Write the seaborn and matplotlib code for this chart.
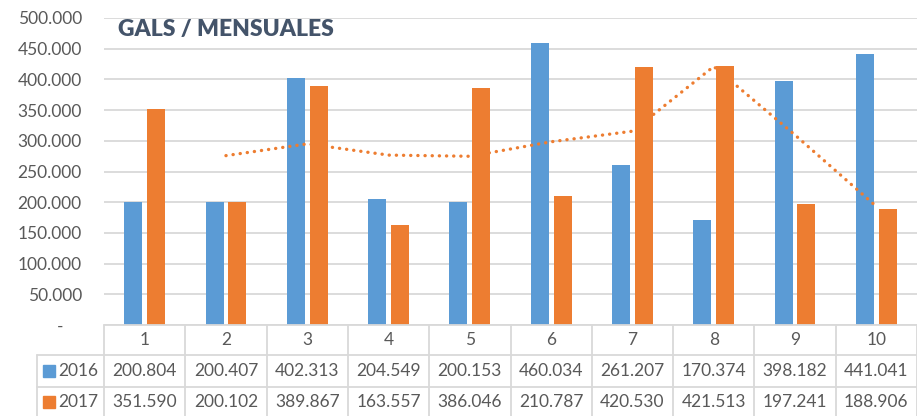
import matplotlib
matplotlib.use("Agg")
import matplotlib.pyplot as plt
import matplotlib.transforms as mtransforms
import seaborn as sns
import pandas as pd

months = ["1", "2", "3", "4", "5", "6", "7", "8", "9", "10"]
years = ["2016", "2017"]
gals_2016 = [200804, 200407, 402313, 204549, 200153, 460034, 261207, 170374, 398182, 441041]
gals_2017 = [351590, 200102, 389867, 163557, 386046, 210787, 420530, 421513, 197241, 188906]

colors = {"2016": "#5B9BD5", "2017": "#ED7D31"}
txt_color = "#595959"
grid_color = "#D9D9D9"


def fmt(v):
    return f"{v:,.0f}".replace(",", ".")


df = pd.DataFrame({
    "Mes": months * 2,
    "Galones": gals_2016 + gals_2017,
    "Año": ["2016"] * len(months) + ["2017"] * len(months),
})

sns.set_style("white")
plt.rcParams["font.family"] = ["Lato", "DejaVu Sans"]

fig = plt.figure(figsize=(9.17, 4.16), dpi=100)
W, H = 917, 416
ax = fig.add_axes([104 / W, 1 - 325 / H, 813 / W, 307 / H])

sns.barplot(data=df, x="Mes", y="Galones", hue="Año", palette=colors,
            saturation=1, width=0.56, gap=0.21, legend=False, ax=ax, linewidth=0)

# 2-period moving average trendline for 2017
ma = pd.Series(gals_2017).rolling(2).mean()
pos = list(range(len(months)))
ax.plot(pos[1:], ma[1:], color=colors["2017"], linewidth=2.4,
        linestyle=(0, (0.05, 2.1)), dash_capstyle="round", zorder=4)

ax.set_xlim(-0.5, len(months) - 0.5)
ax.set_ylim(0, 500000)
yt = list(range(0, 500001, 50000))
ax.set_yticks(yt)
ax.set_yticklabels(["-    "] + [fmt(v) for v in yt[1:]], color=txt_color, fontsize=12.5)
ax.tick_params(axis="y", length=0, pad=16)
ax.set_xticks([])
ax.set_xlabel("")
ax.set_ylabel("")
for s in ax.spines.values():
    s.set_visible(False)
ax.yaxis.grid(True, color=grid_color, linewidth=1.3)
ax.set_axisbelow(True)

ax.text(0.017, 0.962, "GALS / MENSUALES", transform=ax.transAxes,
        fontsize=16.5, fontweight="heavy", color="#44546A", va="center", ha="left")

# data table under the chart
trans = mtransforms.blended_transform_factory(ax.transData, ax.transAxes)


def ay(px):
    return -(px - 325) / 307


n = len(months)
lab_left = -0.5 - (104 - 37) / (813 / n)
lk = dict(color=grid_color, linewidth=1.3, transform=trans, clip_on=False)
ax.plot([-0.5, n - 0.5], [ay(325), ay(325)], **lk)
for yy in (355, 387):
    ax.plot([lab_left, n - 0.5], [ay(yy), ay(yy)], **lk)
ax.plot([lab_left, lab_left], [ay(355), ay(416)], **lk)
for i in range(n + 1):
    ax.plot([i - 0.5, i - 0.5], [ay(325), ay(416)], **lk)

row_y = {"2016": ay(371), "2017": ay(402)}
series = {"2016": gals_2016, "2017": gals_2017}
for i, m in enumerate(months):
    ax.text(i, ay(340), m, transform=trans, ha="center", va="center",
            color=txt_color, fontsize=12.5)
    for yr in years:
        ax.text(i, row_y[yr], fmt(series[yr][i]), transform=trans,
                ha="center", va="center", color=txt_color, fontsize=12.5)

sq_x = -0.5 - (104 - 49.5) / (813 / n)
tx_x = -0.5 - (104 - 58) / (813 / n)
for yr in years:
    ax.plot([sq_x], [row_y[yr]], marker="s", markersize=8, color=colors[yr],
            transform=trans, clip_on=False, linestyle="none")
    ax.text(tx_x, row_y[yr], yr, transform=trans, ha="left", va="center",
            color=txt_color, fontsize=12.5)

fig.savefig("out.png", dpi=100)
